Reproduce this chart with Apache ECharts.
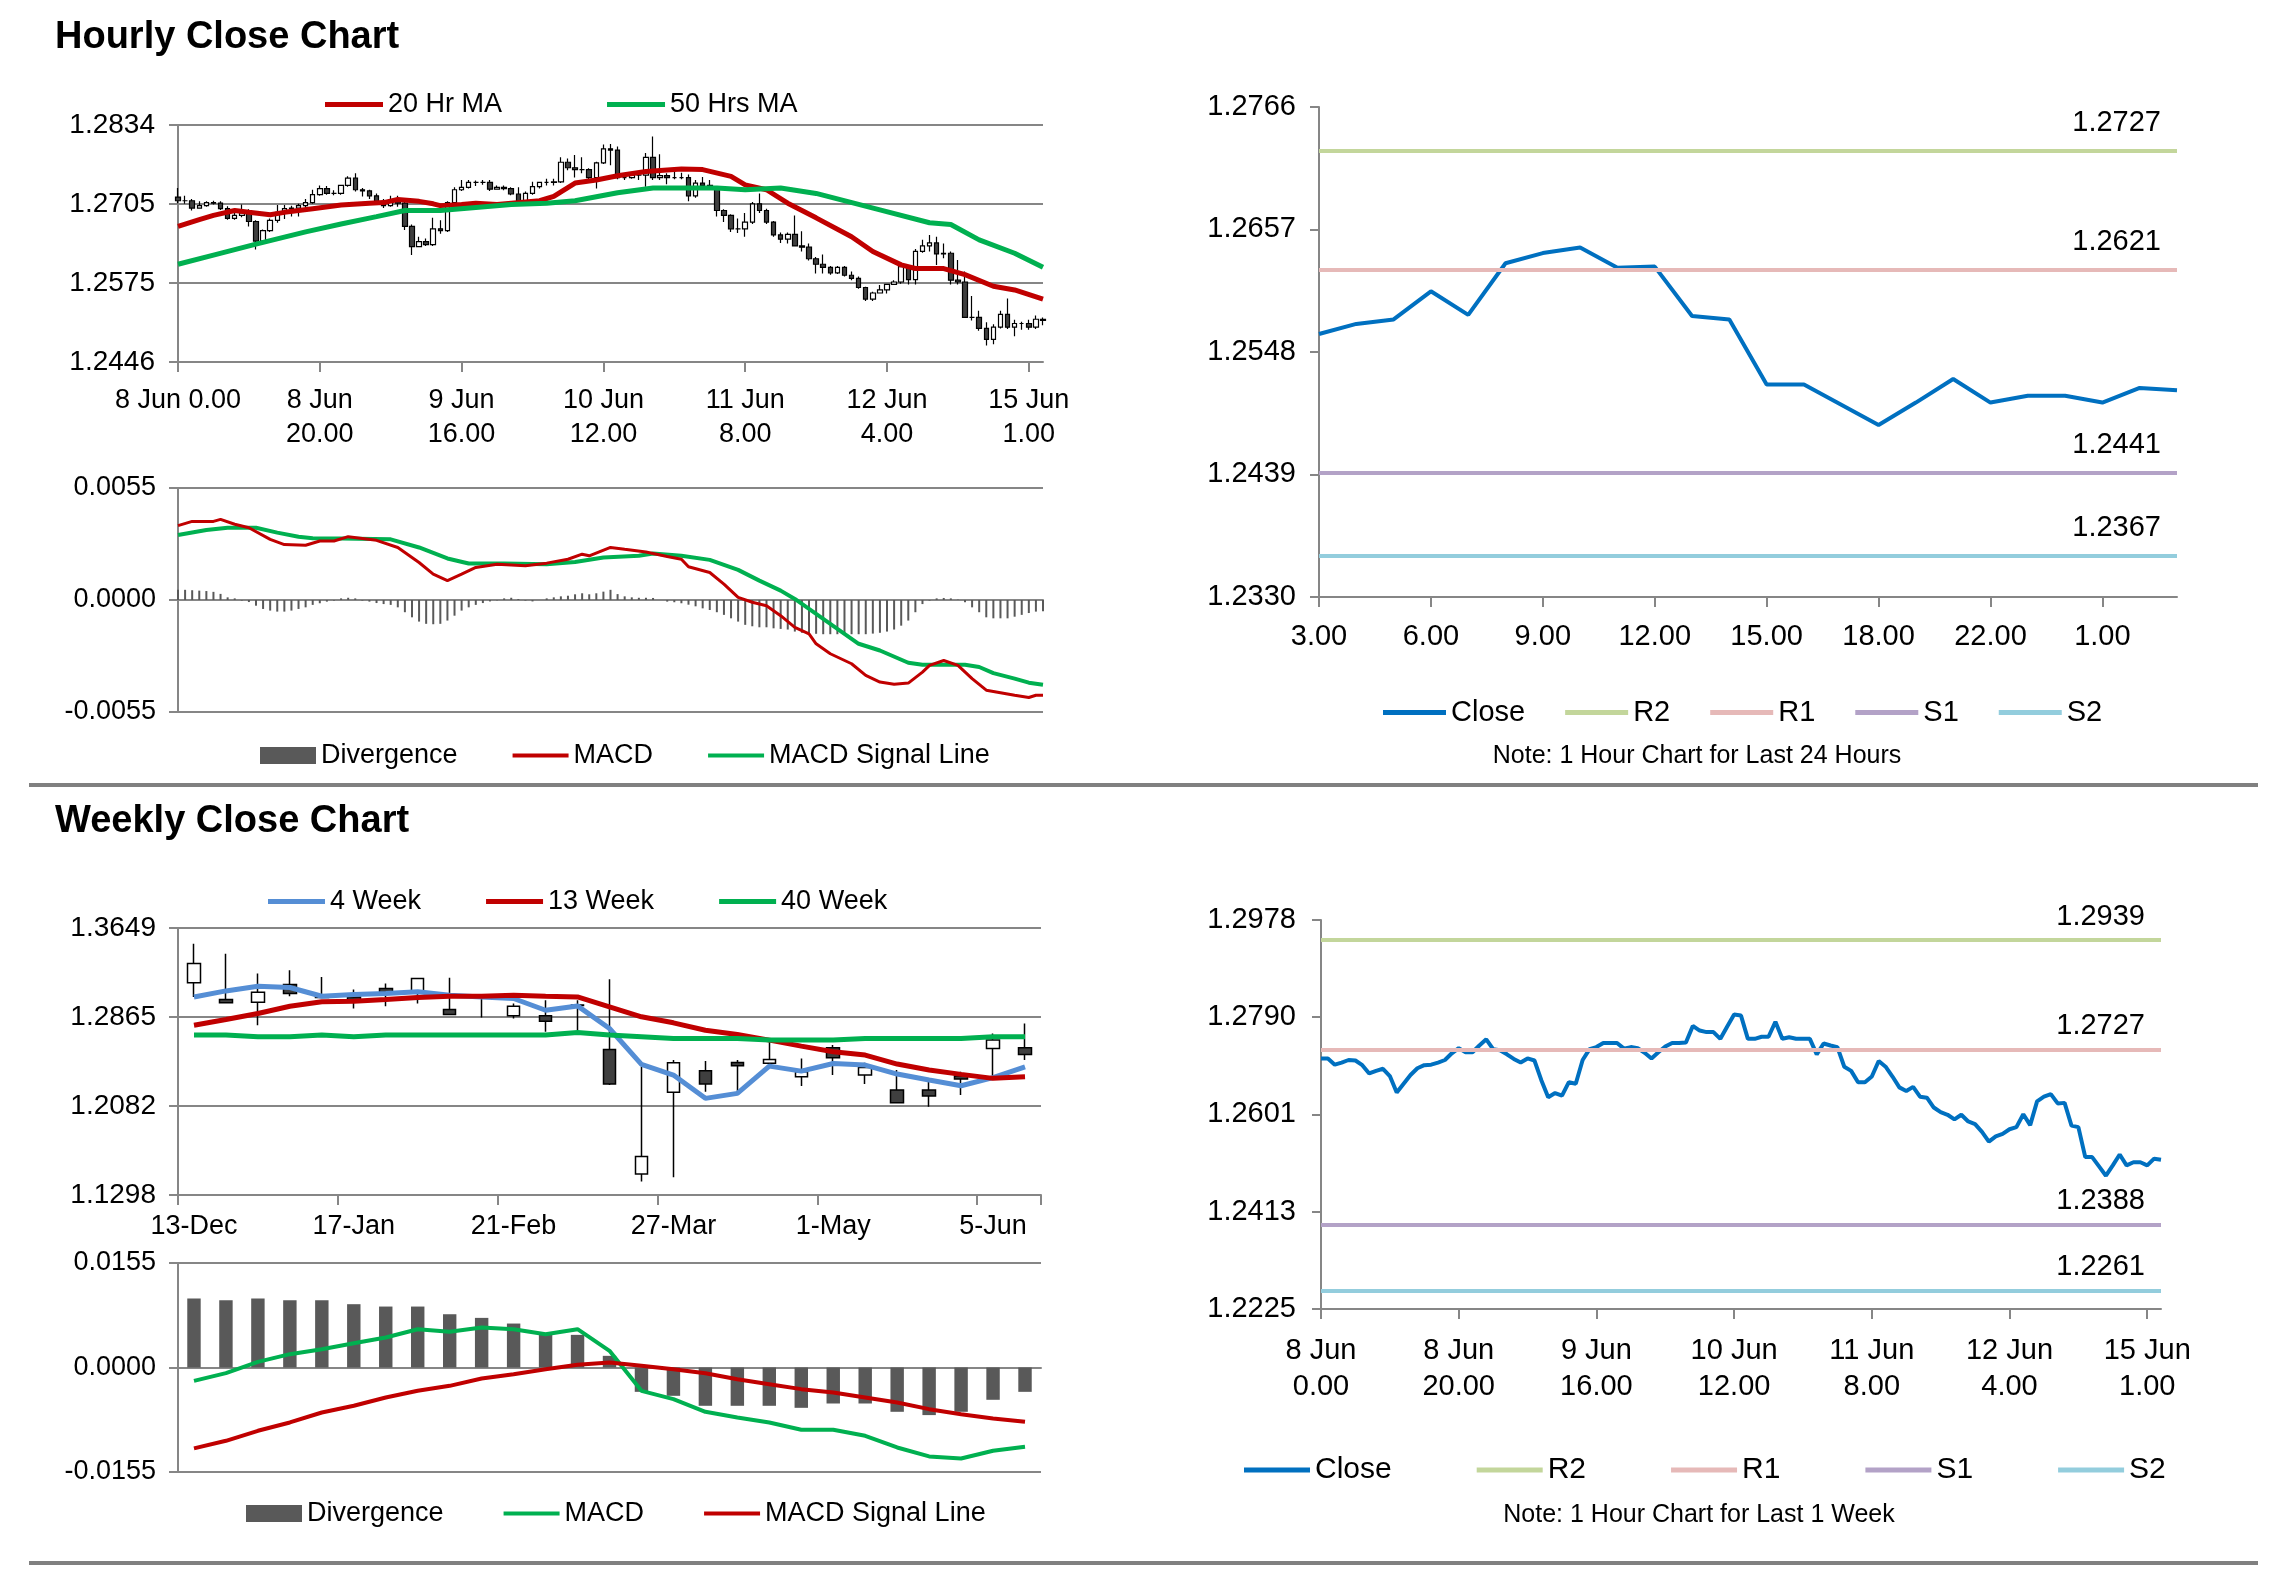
<!DOCTYPE html>
<html>
<head>
<meta charset="utf-8">
<script src="https://cdn.jsdelivr.net/npm/echarts@6/dist/echarts.min.js"></script>
<style>
html, body { margin: 0; padding: 0; background: #fff; }
#chart { width: 2281px; height: 1570px; }
</style>
</head>
<body>
<div id="chart"></div>
<script>
// ---- hourly data (8 Jun 0.00 .. 15 Jun 3.00), one value per hour ----
var hourOpen = [1.2716,1.2710,1.2710,1.2698,1.2702,1.2707,1.2706,1.2697,1.2681,1.2686,
  1.2690,1.2676,1.2644,1.2661,1.2678,1.2691,1.2697,1.2698,1.2702,1.2707,
  1.2720,1.2730,1.2722,1.2722,1.2735,1.2747,1.2728,1.2726,1.2718,1.2709,
  1.2702,1.2710,1.2706,1.2668,1.2635,1.2643,1.2638,1.2664,1.2661,1.2707,
  1.2728,1.2732,1.2740,1.2740,1.2740,1.2729,1.2732,1.2730,1.2721,1.2710,
  1.2722,1.2733,1.2740,1.2740,1.2741,1.2773,1.2764,1.2761,1.2761,1.2748,
  1.2772,1.2795,1.2793,1.2748,1.2748,1.2752,1.2752,1.2781,1.2748,1.2751,
  1.2748,1.2748,1.2748,1.2718,1.2739,1.2735,1.2732,1.2694,1.2686,1.2664,
  1.2664,1.2675,1.2705,1.2694,1.2675,1.2654,1.2647,1.2655,1.2636,1.2634,
  1.2615,1.2606,1.2601,1.2592,1.2601,1.2588,1.2583,1.2568,1.2549,1.2559,
  1.2564,1.2573,1.2577,1.2602,1.2581,1.2627,1.2636,1.2641,1.2623,1.2624,
  1.2580,1.2577,1.2519,1.2519,1.2501,1.2483,1.2503,1.2524,1.2503,1.2509,
  1.2509,1.2503,1.2516];
var hourClose = [1.2710,1.2710,1.2698,1.2702,1.2707,1.2706,1.2697,1.2681,1.2686,1.2690,
  1.2676,1.2644,1.2661,1.2678,1.2691,1.2697,1.2698,1.2702,1.2707,1.2720,
  1.2730,1.2722,1.2722,1.2735,1.2747,1.2728,1.2726,1.2718,1.2709,1.2702,
  1.2710,1.2706,1.2668,1.2635,1.2643,1.2638,1.2664,1.2661,1.2707,1.2728,
  1.2732,1.2740,1.2740,1.2740,1.2729,1.2732,1.2730,1.2721,1.2710,1.2722,
  1.2733,1.2740,1.2740,1.2741,1.2773,1.2764,1.2761,1.2761,1.2748,1.2772,
  1.2795,1.2793,1.2748,1.2748,1.2752,1.2752,1.2781,1.2748,1.2751,1.2748,
  1.2748,1.2748,1.2718,1.2739,1.2735,1.2732,1.2694,1.2686,1.2664,1.2664,
  1.2675,1.2705,1.2694,1.2675,1.2654,1.2647,1.2655,1.2636,1.2634,1.2615,
  1.2606,1.2601,1.2592,1.2601,1.2588,1.2583,1.2568,1.2549,1.2559,1.2564,
  1.2573,1.2577,1.2602,1.2581,1.2627,1.2636,1.2641,1.2623,1.2624,1.2580,
  1.2577,1.2519,1.2519,1.2501,1.2483,1.2503,1.2524,1.2503,1.2509,1.2509,
  1.2503,1.2516,1.2514];
var hourLow = [1.2706,1.2705,1.2694,1.2697,1.2700,1.2704,1.2695,1.2679,1.2679,1.2683,
  1.2668,1.2630,1.2641,1.2659,1.2674,1.2680,1.2684,1.2684,1.2698,1.2705,
  1.2718,1.2720,1.2719,1.2720,1.2733,1.2725,1.2717,1.2713,1.2707,1.2698,
  1.2700,1.2700,1.2662,1.2621,1.2634,1.2636,1.2636,1.2656,1.2659,1.2704,
  1.2726,1.2730,1.2734,1.2736,1.2726,1.2728,1.2727,1.2719,1.2708,1.2708,
  1.2720,1.2730,1.2735,1.2735,1.2739,1.2760,1.2748,1.2755,1.2744,1.2730,
  1.2770,1.2768,1.2745,1.2744,1.2746,1.2744,1.2733,1.2744,1.2744,1.2737,
  1.2745,1.2745,1.2709,1.2715,1.2733,1.2730,1.2684,1.2675,1.2659,1.2657,
  1.2651,1.2672,1.2690,1.2672,1.2651,1.2641,1.2640,1.2635,1.2627,1.2612,
  1.2591,1.2591,1.2589,1.2590,1.2586,1.2580,1.2566,1.2546,1.2546,1.2558,
  1.2558,1.2572,1.2574,1.2573,1.2573,1.2625,1.2627,1.2605,1.2616,1.2573,
  1.2573,1.2519,1.2514,1.2497,1.2473,1.2475,1.2501,1.2500,1.2488,1.2499,
  1.2499,1.2500,1.2506];
var hourHigh = [1.2731,1.2718,1.2713,1.2709,1.2709,1.2710,1.2709,1.2701,1.2692,1.2704,
  1.2696,1.2678,1.2663,1.2681,1.2703,1.2703,1.2702,1.2705,1.2713,1.2728,
  1.2735,1.2734,1.2727,1.2736,1.2750,1.2755,1.2731,1.2728,1.2722,1.2713,
  1.2718,1.2718,1.2709,1.2671,1.2651,1.2648,1.2682,1.2678,1.2709,1.2732,
  1.2744,1.2744,1.2743,1.2744,1.2744,1.2735,1.2735,1.2732,1.2732,1.2725,
  1.2741,1.2741,1.2746,1.2746,1.2781,1.2779,1.2785,1.2781,1.2763,1.2774,
  1.2802,1.2803,1.2799,1.2755,1.2756,1.2755,1.2788,1.2815,1.2786,1.2755,
  1.2757,1.2756,1.2753,1.2744,1.2749,1.2744,1.2733,1.2696,1.2688,1.2681,
  1.2690,1.2708,1.2722,1.2697,1.2677,1.2658,1.2658,1.2686,1.2660,1.2640,
  1.2618,1.2622,1.2603,1.2603,1.2603,1.2594,1.2586,1.2569,1.2561,1.2572,
  1.2574,1.2580,1.2604,1.2605,1.2631,1.2646,1.2654,1.2651,1.2640,1.2627,
  1.2613,1.2594,1.2554,1.2530,1.2511,1.2508,1.2530,1.2550,1.2515,1.2512,
  1.2515,1.2522,1.2519];

// moving averages, [hour index, value] read at the turning points
var ma20Hour = [[0,1.2668],[3,1.2679],[5,1.2686],[8,1.2694],[10,1.2691],[13,1.2687],[15,1.2691],
  [19,1.2697],[23,1.2703],[27,1.2706],[29,1.2707],[31,1.2712],[34,1.2709],[36,1.2705],[37,1.2702],
  [40,1.2704],[42,1.2706],[45,1.2704],[47,1.2706],[51,1.2710],[53,1.2717],[56,1.2739],[59,1.2744],
  [62,1.2751],[66,1.2758],[71,1.2762],[74,1.2761],[78,1.2750],[80,1.2736],[83,1.2728],[86,1.2706],
  [90,1.2682],[95,1.2651],[98,1.2627],[102,1.2605],[104,1.2599],[108,1.2599],[111,1.2589],
  [115,1.2570],[118,1.2564],[122,1.2549]];
var ma50Hour = [[0,1.2606],[5,1.2621],[11,1.2639],[18,1.2659],[23,1.2672],[28,1.2684],[32,1.2694],
  [37,1.2694],[42,1.2699],[47,1.2704],[52,1.2706],[56,1.2710],[62,1.2723],[67,1.2731],[76,1.2731],
  [80,1.2728],[85,1.2731],[90,1.2722],[99,1.2695],[106,1.2674],[109,1.2671],[113,1.2646],
  [118,1.2624],[122,1.2601]];

// hourly MACD
var macdHour = [[0,0.00365],[2,0.00386],[5,0.00386],[6,0.00396],[8,0.00372],[10,0.00355],[13,0.00298],
  [15,0.00272],[18,0.00269],[20,0.00290],[22,0.00290],[24,0.00311],[28,0.00293],[31,0.00258],
  [34,0.00184],[36,0.00127],[38,0.00095],[40,0.00127],[42,0.00160],[45,0.00176],[49,0.00168],
  [52,0.00181],[55,0.00200],[57,0.00225],[58,0.00217],[61,0.00258],[63,0.00249],[66,0.00236],
  [69,0.00214],[71,0.00200],[72,0.00163],[75,0.00135],[77,0.00078],[79,0.00013],[81,-0.00011],
  [83,-0.00028],[85,-0.00077],[87,-0.00134],[89,-0.00166],[90,-0.00215],[92,-0.00264],[95,-0.00313],
  [97,-0.00370],[99,-0.00403],[101,-0.00414],[103,-0.00408],[105,-0.00354],[106,-0.00321],
  [108,-0.00297],[110,-0.00321],[112,-0.00386],[114,-0.00443],[116,-0.00455],[118,-0.00468],
  [120,-0.00479],[121,-0.00468],[122,-0.00468]];
var signalHour = [[0,0.00319],[4,0.00344],[7,0.00355],[11,0.00355],[14,0.00331],[17,0.00311],
  [19,0.00303],[23,0.00302],[30,0.00298],[34,0.00258],[38,0.00204],[41,0.00179],[46,0.00179],
  [52,0.00176],[56,0.00187],[60,0.00209],[65,0.00217],[67,0.00228],[71,0.00217],[75,0.00197],
  [79,0.00148],[82,0.00095],[85,0.00046],[87,0.00005],[90,-0.00068],[93,-0.00142],[96,-0.00215],
  [99,-0.00248],[103,-0.00308],[105,-0.00318],[111,-0.00318],[113,-0.00329],[115,-0.00359],
  [118,-0.00386],[120,-0.00406],[122,-0.00416]];
var divHour = [0.00050,0.00050,0.00048,0.00046,0.00044,0.00040,0.00030,0.00013,0.00008,-0.00003,
  -0.00010,-0.00028,-0.00044,-0.00052,-0.00057,-0.00057,-0.00052,-0.00044,-0.00036,-0.00024,
  -0.00016,-0.00008,-0.00003,0.00008,0.00011,0.00008,-0.00003,-0.00008,-0.00015,-0.00020,
  -0.00024,-0.00036,-0.00060,-0.00085,-0.00106,-0.00117,-0.00119,-0.00117,-0.00101,-0.00077,
  -0.00052,-0.00036,-0.00024,-0.00015,-0.00007,-0.00002,0.00008,0.00011,0.00005,-0.00003,
  -0.00007,0.00000,0.00008,0.00013,0.00018,0.00021,0.00028,0.00033,0.00028,0.00033,
  0.00041,0.00050,0.00029,0.00018,0.00013,0.00011,0.00011,0.00010,0.00000,-0.00008,
  -0.00011,-0.00016,-0.00023,-0.00031,-0.00041,-0.00049,-0.00060,-0.00073,-0.00090,-0.00106,
  -0.00122,-0.00129,-0.00134,-0.00134,-0.00139,-0.00142,-0.00145,-0.00155,-0.00161,-0.00166,
  -0.00166,-0.00168,-0.00168,-0.00168,-0.00168,-0.00168,-0.00168,-0.00168,-0.00165,-0.00161,
  -0.00155,-0.00145,-0.00126,-0.00101,-0.00060,-0.00020,-0.00003,0.00008,0.00010,0.00008,
  0.00002,-0.00011,-0.00036,-0.00060,-0.00085,-0.00090,-0.00090,-0.00090,-0.00082,-0.00073,
  -0.00064,-0.00057,-0.00055];

var hourTicksTop = ['8 Jun 0.00', '8 Jun\n20.00', '9 Jun\n16.00', '10 Jun\n12.00', '11 Jun\n8.00', '12 Jun\n4.00', '15 Jun\n1.00'];
var hourTicksBottom = ['8 Jun\n0.00', '8 Jun\n20.00', '9 Jun\n16.00', '10 Jun\n12.00', '11 Jun\n8.00', '12 Jun\n4.00', '15 Jun\n1.00'];
var dayCategories = ['3.00','4.00','5.00','6.00','7.00','8.00','9.00','10.00','11.00','12.00','13.00','14.00',
  '15.00','16.00','17.00','18.00','19.00','20.00','22.00','23.00','0.00','1.00','2.00','3.00'];

// pivot levels
var dayLevels = { R2: 1.2727, R1: 1.2621, S1: 1.2441, S2: 1.2367 };
var weekLevels = { R2: 1.2939, R1: 1.2727, S1: 1.2388, S2: 1.2261 };

// ---- weekly data ----
var weekCategories = ['13-Dec','20-Dec','27-Dec','3-Jan','10-Jan','17-Jan','24-Jan','31-Jan','7-Feb','14-Feb',
  '21-Feb','28-Feb','7-Mar','14-Mar','21-Mar','27-Mar','3-Apr','10-Apr','17-Apr','24-Apr',
  '1-May','8-May','15-May','22-May','29-May','5-Jun','12-Jun'];
var weekOpen = [1.3166,1.3019,1.2996,1.3151,1.3037,1.3042,1.3116,1.3095,1.2931,1.3042,1.2876,1.2876,1.2966,1.2580,
  1.1484,1.2202,1.2392,1.2465,1.2457,1.2339,1.2594,1.2354,1.2222,1.2222,1.2345,1.2588,1.2594];
var weekClose = [1.3336,1.2990,1.3083,1.3072,1.3057,1.3019,1.3081,1.3204,1.2887,1.3036,1.2960,1.2829,1.2972,1.2275,
  1.1636,1.2462,1.2275,1.2436,1.2492,1.2383,1.2506,1.2421,1.2111,1.2169,1.2319,1.2662,1.2536];
var weekLow = [1.3042,1.2984,1.2793,1.3048,1.3030,1.2940,1.2961,1.2984,1.2881,1.2861,1.2852,1.2735,1.2749,1.2266,
  1.1416,1.1454,1.2207,1.2178,1.2457,1.2257,1.2354,1.2275,1.2105,1.2076,1.2178,1.2319,1.2486];
var weekHigh = [1.3511,1.3423,1.3248,1.3277,1.3218,1.3107,1.3160,1.3210,1.3212,1.3045,1.2984,1.3013,1.3013,1.3198,
  1.2427,1.2486,1.2477,1.2486,1.2676,1.2500,1.2618,1.2462,1.2398,1.2310,1.2383,1.2720,1.2808];
var ma4Week = [1.3042,1.3095,1.3136,1.3125,1.3048,1.3063,1.3072,1.3087,1.3057,1.3042,1.3028,1.2925,1.2963,1.2764,
  1.2448,1.2354,1.2149,1.2193,1.2433,1.2389,1.2456,1.2442,1.2363,1.2310,1.2260,1.2331,1.2427];
var ma13Week = [1.2793,1.2843,1.2896,1.2960,1.2999,1.3004,1.3019,1.3037,1.3048,1.3048,1.3057,1.3048,1.3042,1.2955,
  1.2867,1.2814,1.2749,1.2711,1.2662,1.2609,1.2559,1.2530,1.2451,1.2398,1.2360,1.2325,1.2339];
var ma40Week = [1.2706,1.2706,1.2691,1.2691,1.2706,1.2691,1.2706,1.2706,1.2706,1.2706,1.2706,1.2706,1.2729,1.2706,
  1.2691,1.2676,1.2676,1.2676,1.2662,1.2662,1.2662,1.2676,1.2676,1.2676,1.2676,1.2691,1.2691];
var divWeek = [0.01023,0.00998,0.01023,0.00998,0.00998,0.00939,0.00904,0.00904,0.00790,0.00736,0.00652,0.00484,
  0.00484,0.00173,-0.00361,-0.00420,-0.00568,-0.00568,-0.00568,-0.00598,-0.00534,-0.00534,-0.00657,-0.00706,
  -0.00657,-0.00479,-0.00361];
var macdWeek = [-0.00198,-0.00084,0.00084,0.00198,0.00272,0.00361,0.00445,0.00568,0.00529,0.00593,0.00568,0.00494,
  0.00568,0.00247,-0.00346,-0.00469,-0.00657,-0.00741,-0.00815,-0.00924,-0.00924,-0.01013,-0.01186,-0.01319,
  -0.01349,-0.01235,-0.01176];
var signalWeek = [-0.01200,-0.01087,-0.00939,-0.00815,-0.00667,-0.00568,-0.00445,-0.00346,-0.00272,-0.00163,
  -0.00099,-0.00025,0.00040,0.00074,0.00025,-0.00025,-0.00084,-0.00173,-0.00247,-0.00321,-0.00371,-0.00445,
  -0.00519,-0.00618,-0.00692,-0.00756,-0.00805];

// axis tick labels
var hourPriceTicks = ['1.2446', '1.2575', '1.2705', '1.2834'];
var hourMacdTicks = ['-0.0055', '0.0000', '0.0055'];
var dayPriceTicks = ['1.2330', '1.2439', '1.2548', '1.2657', '1.2766'];
var weekPriceTicks = ['1.1298', '1.2082', '1.2865', '1.3649'];
var weekMacdTicks = ['-0.0155', '0.0000', '0.0155'];
var weekClosePriceTicks = ['1.2225', '1.2413', '1.2601', '1.2790', '1.2978'];

(function () {
    'use strict';
    var FONT = '"Liberation Sans", Arial, Helvetica, sans-serif';
    var GRAY = '#868686';
    var RED = '#C00000', GREEN = '#00B050', BLUE = '#0070C0';
    var LEVEL_COLORS = { R2: '#C3D69B', R1: '#E6B9B8', S1: '#B3A2C7', S2: '#93CDDD' };
    // thin band centred in a 56x17 box, so lines and the divergence block share one legend height
    var LINE_ICON = 'path://M0,0L0,0M0,6.5H56V10.5H0ZM0,17L0,17';

    var hourCategories = hourClose.map(function (v, i) { return String(i); });
    var hourCandles = hourOpen.map(function (o, i) { return [o, hourClose[i], hourLow[i], hourHigh[i]]; });
    var weekCandles = weekOpen.map(function (o, i) { return [o, weekClose[i], weekLow[i], weekHigh[i]]; });

    function nearest(labels, v) {
        var best = labels[0];
        labels.forEach(function (l) {
            if (Math.abs(+l - v) < Math.abs(+best - v)) best = l;
        });
        return best;
    }
    function cleanName(n) { return n.split('|')[0]; }

    function valueAxis(grid, labels, split, fontSize, margin) {
        var min = +labels[0], max = +labels[labels.length - 1];
        return {
            type: 'value', gridIndex: grid, min: min, max: max,
            interval: (max - min) / (labels.length - 1) * 1.0001,
            axisLine: { show: true, lineStyle: { color: GRAY, width: 2 } },
            axisTick: { show: true, length: 9, lineStyle: { color: GRAY, width: 2 } },
            splitLine: { show: split, lineStyle: { color: GRAY, width: 2 } },
            axisLabel: {
                color: '#000', fontFamily: FONT, fontSize: fontSize, margin: margin,
                formatter: function (v) { return nearest(labels, v); }
            }
        };
    }
    function hourAxis(grid, ticks, margin, fontSize, lineHeight) {
        return {
            type: 'category', gridIndex: grid, data: hourCategories, boundaryGap: false,
            axisLine: { lineStyle: { color: GRAY, width: 2 } },
            axisTick: { show: true, interval: 19, length: 10, lineStyle: { color: GRAY, width: 2 } },
            axisLabel: {
                interval: 19, color: '#000', fontFamily: FONT, fontSize: fontSize,
                lineHeight: lineHeight, margin: margin,
                formatter: function (v) { var k = Number(v); return k % 20 === 0 ? ticks[k / 20] : ''; }
            }
        };
    }
    function zeroAxis(grid, data, gap) {
        return {
            type: 'category', gridIndex: grid, data: data, boundaryGap: gap,
            axisLine: { onZero: true, lineStyle: { color: GRAY, width: 2 } },
            axisTick: { show: false }, axisLabel: { show: false }
        };
    }
    function line(name, xi, data, color, width, z) {
        return {
            type: 'line', name: name, xAxisIndex: xi, yAxisIndex: xi, data: data,
            color: color, showSymbol: false, symbol: 'none', z: z || 3,
            lineStyle: { color: color, width: width }, emphasis: { disabled: true }
        };
    }
    function level(key, suffix, xi, value, dy) {
        return {
            type: 'line', name: key + suffix, xAxisIndex: xi, yAxisIndex: xi, data: [],
            color: LEVEL_COLORS[key],
            markLine: {
                silent: true, symbol: ['none', 'none'], animation: false, precision: 4,
                lineStyle: { color: LEVEL_COLORS[key], width: 4, type: 'solid' },
                label: {
                    show: true, position: 'insideEndTop', distance: [16, dy],
                    color: '#000', fontFamily: FONT, fontSize: 29,
                    formatter: function (p) { return Number(p.value).toFixed(4); }
                },
                data: [{ yAxis: value }]
            }
        };
    }
    function legend(data, left, top, w, h, gap, fontSize) {
        return {
            data: data, left: left, top: top, itemWidth: w, itemHeight: h, itemGap: gap,
            padding: 0, selectedMode: false, icon: 'rect', formatter: cleanName,
            textStyle: { color: '#000', fontFamily: FONT, fontSize: fontSize }
        };
    }

    var chart = echarts.init(document.getElementById('chart'));
    var option = {
        animation: false,
        backgroundColor: '#fff',
        title: [
            { text: 'Hourly Close Chart', left: 55, top: 19, padding: 0,
              textStyle: { fontSize: 38, fontWeight: 'bold', fontFamily: FONT, color: '#000' } },
            { text: 'Weekly Close Chart', left: 55, top: 803, padding: 0,
              textStyle: { fontSize: 38, fontWeight: 'bold', fontFamily: FONT, color: '#000' } }
        ],
        grid: [
            { left: 178, top: 125, width: 865, height: 237 },
            { left: 178, top: 488, width: 865, height: 224 },
            { left: 1319, top: 107, width: 858, height: 490 },
            { left: 178, top: 928, width: 863, height: 267 },
            { left: 178, top: 1263, width: 863, height: 209 },
            { left: 1321, top: 920, width: 840, height: 389 }
        ],
        xAxis: [
            hourAxis(0, hourTicksTop, 22, 27, 34),
            zeroAxis(1, hourCategories, false),
            {
                type: 'category', gridIndex: 2, data: dayCategories, boundaryGap: false,
                axisLine: { lineStyle: { color: GRAY, width: 2 } },
                axisTick: { show: true, interval: 2, length: 10, lineStyle: { color: GRAY, width: 2 } },
                axisLabel: { interval: 2, color: '#000', fontFamily: FONT, fontSize: 29, margin: 25 }
            },
            {
                type: 'category', gridIndex: 3, data: weekCategories, boundaryGap: true,
                axisLine: { lineStyle: { color: GRAY, width: 2 } },
                axisTick: { show: true, interval: 4, length: 10, lineStyle: { color: GRAY, width: 2 } },
                axisLabel: { interval: 4, color: '#000', fontFamily: FONT, fontSize: 27, margin: 18 }
            },
            zeroAxis(4, weekCategories, true),
            hourAxis(5, hourTicksBottom, 24, 29, 36)
        ],
        yAxis: [
            valueAxis(0, hourPriceTicks, true, 28, 23),
            valueAxis(1, hourMacdTicks, true, 27, 22),
            valueAxis(2, dayPriceTicks, false, 29, 23),
            valueAxis(3, weekPriceTicks, true, 28, 22),
            valueAxis(4, weekMacdTicks, true, 27, 22),
            valueAxis(5, weekClosePriceTicks, false, 29, 25)
        ],
        legend: [
            legend(['20 Hr MA', '50 Hrs MA'], 325, 91, 58, 5, 105, 27),
            legend([{ name: 'Divergence|h', icon: 'rect' }, { name: 'MACD|h', icon: LINE_ICON },
                    { name: 'MACD Signal Line|h', icon: LINE_ICON }], 260, 742, 56, 17, 55, 27),
            legend(['Close|d', 'R2|d', 'R1|d', 'S1|d', 'S2|d'], 1383, 698, 63, 5, 40, 29),
            legend(['4 Week', '13 Week', '40 Week'], 268, 888, 57, 5, 65, 27),
            legend([{ name: 'Divergence|w', icon: 'rect' }, { name: 'MACD|w', icon: LINE_ICON },
                    { name: 'MACD Signal Line|w', icon: LINE_ICON }], 246, 1500, 56, 17, 60, 27),
            legend(['Close|w', 'R2|w', 'R1|w', 'S1|w', 'S2|w'], 1244, 1455, 66, 5, 85, 30)
        ],
        graphic: [
            { type: 'line', shape: { x1: 29, y1: 785, x2: 2258, y2: 785 }, style: { stroke: '#808080', lineWidth: 4 } },
            { type: 'line', shape: { x1: 29, y1: 1563, x2: 2258, y2: 1563 }, style: { stroke: '#808080', lineWidth: 4 } },
            { type: 'text', x: 1697, y: 756, style: { text: 'Note: 1 Hour Chart for Last 24 Hours', fill: '#000',
              fontFamily: FONT, fontSize: 25, align: 'center', verticalAlign: 'middle' } },
            { type: 'text', x: 1699, y: 1515, style: { text: 'Note: 1 Hour Chart for Last 1 Week', fill: '#000',
              fontFamily: FONT, fontSize: 25, align: 'center', verticalAlign: 'middle' } }
        ],
        series: [
            {
                type: 'candlestick', name: 'OHLC|h', xAxisIndex: 0, yAxisIndex: 0, data: hourCandles,
                barWidth: 5, z: 2,
                itemStyle: { color: '#FFFFFF', color0: '#3F3F3F', borderColor: '#000', borderColor0: '#000', borderWidth: 1.2 }
            },
            line('20 Hr MA', 0, ma20Hour, RED, 5),
            line('50 Hrs MA', 0, ma50Hour, GREEN, 5),
            {
                type: 'bar', name: 'Divergence|h', xAxisIndex: 1, yAxisIndex: 1, data: divHour,
                barWidth: 2, color: '#595959', itemStyle: { color: '#595959' }
            },
            line('MACD Signal Line|h', 1, signalHour, GREEN, 4),
            line('MACD|h', 1, macdHour, RED, 3, 4),
            line('Close|d', 2, hourClose.slice(99), BLUE, 4, 4),
            level('R2', '|d', 2, dayLevels.R2, 13),
            level('R1', '|d', 2, dayLevels.R1, 13),
            level('S1', '|d', 2, dayLevels.S1, 13),
            level('S2', '|d', 2, dayLevels.S2, 13),
            {
                type: 'candlestick', name: 'OHLC|w', xAxisIndex: 3, yAxisIndex: 3, data: weekCandles,
                barWidth: 13, z: 2,
                itemStyle: { color: '#FFFFFF', color0: '#3F3F3F', borderColor: '#000', borderColor0: '#000', borderWidth: 1.5 }
            },
            line('4 Week', 3, ma4Week, '#558ED5', 5),
            line('13 Week', 3, ma13Week, RED, 5),
            line('40 Week', 3, ma40Week, GREEN, 5),
            {
                type: 'bar', name: 'Divergence|w', xAxisIndex: 4, yAxisIndex: 4, data: divWeek,
                barWidth: '42%', color: '#595959', itemStyle: { color: '#595959' }
            },
            line('MACD|w', 4, macdWeek, GREEN, 4),
            line('MACD Signal Line|w', 4, signalWeek, RED, 4),
            line('Close|w', 5, hourClose, BLUE, 4, 4),
            level('R2', '|w', 5, weekLevels.R2, 9),
            level('R1', '|w', 5, weekLevels.R1, 9),
            level('S1', '|w', 5, weekLevels.S1, 9),
            level('S2', '|w', 5, weekLevels.S2, 9)
        ]
    };
    chart.setOption(option);
})();
</script>
</body>
</html>
